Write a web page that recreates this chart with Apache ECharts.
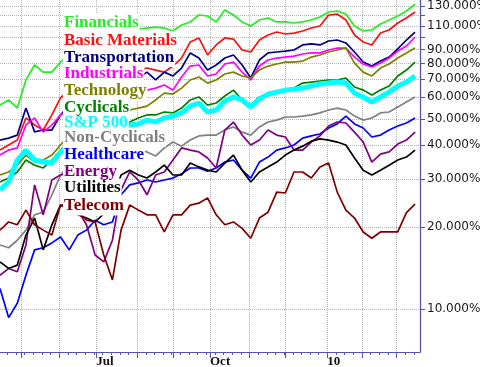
<!DOCTYPE html>
<html><head><meta charset="utf-8">
<script src="https://cdn.jsdelivr.net/npm/echarts@6/dist/echarts.min.js"></script>
<style>html,body{margin:0;padding:0;background:#fff}#c{width:480px;height:367px}</style>
</head><body><div id="c"></div>
<script>
// weekly sample dates
const dates = ['2009-04-14','2009-04-21','2009-04-28','2009-05-05','2009-05-12','2009-05-19','2009-05-26',
'2009-06-02','2009-06-09','2009-06-16','2009-06-23','2009-06-30','2009-07-07','2009-07-14','2009-07-21','2009-07-28',
'2009-08-04','2009-08-11','2009-08-18','2009-08-25','2009-09-01','2009-09-08','2009-09-15','2009-09-22','2009-09-29',
'2009-10-06','2009-10-13','2009-10-20','2009-10-27','2009-11-03','2009-11-10','2009-11-17','2009-11-24',
'2009-12-01','2009-12-08','2009-12-15','2009-12-22','2009-12-29','2010-01-05','2010-01-12','2010-01-19','2010-01-26',
'2010-02-02','2010-02-09','2010-02-16','2010-02-23','2010-03-02','2010-03-09','2010-03-16'];

const financials = [56.2,58.7,54.8,69.5,78.9,74.3,74.3,80.9,85.9,89.6,93.5,95.9,97.5,100.0,101.7,104.3,107.0,107.9,108.8,107.9,105.2,110.7,113.6,120.5,119.5,113.6,125.7,120.5,113.6,109.8,115.5,117.5,113.6,113.6,112.6,113.6,115.5,118.5,123.6,124.6,121.5,109.8,105.2,106.1,111.6,115.5,119.5,124.6,132.2];
const basicMaterials = [38.4,40.1,41.8,50.4,47.5,45.5,51.7,59.7,63.8,66.6,69.5,70.7,71.9,72.5,74.3,74.3,75.6,76.9,75.6,74.3,78.2,83.7,95.9,99.2,85.9,93.5,99.2,98.3,89.6,88.1,97.5,101.7,104.3,102.6,103.4,105.2,107.9,109.8,120.5,121.5,115.5,101.7,95.9,93.5,103.4,106.1,112.6,117.5,123.6];
const transportation = [41.8,42.5,43.6,54.8,44.8,45.5,45.5,51.7,56.2,58.7,61.2,62.7,63.8,64.9,66.6,68.3,70.7,74.3,69.5,74.3,71.9,76.9,87.4,83.7,75.6,78.9,83.7,85.9,78.9,70.7,82.3,87.4,88.1,88.8,89.6,93.5,94.3,93.5,96.7,97.5,95.1,88.1,80.9,78.2,81.6,84.4,90.4,97.5,104.3];
const industrials = [36.8,38.4,39.1,47.5,50.4,44.7,47.5,51.7,53.9,55.7,57.2,57.7,58.7,59.7,60.7,58.7,61.2,63.8,64.9,66.6,63.8,71.3,78.2,78.9,71.9,73.1,79.6,80.9,74.3,69.5,78.2,82.3,83.7,84.4,85.1,86.6,87.4,87.4,89.6,91.1,91.1,84.4,79.6,77.6,80.2,83.7,88.8,92.7,100.0];
const technology = [31.1,31.9,33.8,36.8,34.7,35.3,36.8,40.1,43.6,46.3,48.7,49.5,50.4,51.7,52.6,53.9,54.8,55.7,58.7,62.2,61.7,64.9,69.5,71.3,67.7,69.5,73.1,74.3,71.9,70.7,75.6,78.2,79.6,80.9,80.9,81.6,84.4,85.9,88.1,89.6,91.1,80.2,74.3,71.9,76.9,79.6,83.7,87.4,91.1];
const cyclicals = [29.3,30.3,31.9,35.3,33.8,33.0,35.3,38.4,41.1,42.5,43.6,44.7,45.5,46.3,47.5,48.7,50.4,51.7,51.7,53.0,52.6,54.8,58.7,60.2,56.2,57.2,60.7,63.8,58.7,56.2,60.2,61.7,62.7,63.8,64.9,67.7,68.3,68.9,69.5,69.5,70.7,65.5,63.8,61.2,63.8,66.0,71.9,75.6,80.9];
const sp500 = [27.4,29.3,35.3,38.4,35.3,34.7,34.4,37.8,40.1,41.8,42.9,43.6,44.3,45.5,46.3,47.5,47.9,49.5,48.7,50.4,51.2,52.6,55.7,57.2,53.0,53.9,58.2,60.2,58.7,55.3,59.2,61.7,62.7,63.8,64.3,64.9,66.0,67.2,67.7,68.3,67.7,62.2,60.2,57.7,60.2,62.7,66.0,68.3,71.9];
const nonCyclicals = [17.2,16.8,17.9,19.5,22.2,22.7,26.3,31.1,33.8,35.3,36.2,36.8,36.8,37.5,37.8,37.8,38.4,37.8,36.5,39.1,41.1,39.7,41.8,43.3,43.6,43.6,45.5,46.7,44.7,43.6,46.7,48.7,49.5,50.8,50.8,51.2,51.7,52.6,53.9,54.8,53.9,51.2,49.5,50.4,52.6,53.0,55.3,57.7,60.2];
const healthcare = [11.9,9.3,10.5,13.3,16.5,16.8,17.5,18.4,16.5,18.7,19.5,21.2,20.4,20.9,26.3,28.6,29.1,29.8,29.3,29.8,30.3,31.4,33.0,33.0,32.1,33.0,34.7,35.3,32.4,30.3,34.7,36.2,38.4,39.1,40.1,42.5,43.3,44.0,46.3,47.9,51.2,47.9,46.3,42.9,43.6,45.5,47.1,48.3,50.4];
const energy = [13.3,14.1,13.7,17.2,28.6,22.2,29.8,31.1,31.6,23.1,20.4,15.8,14.9,17.9,27.4,31.9,29.8,26.3,31.1,31.9,35.3,39.1,38.4,37.8,35.9,33.0,45.5,48.7,43.6,40.1,41.8,45.5,43.6,42.9,38.4,38.4,41.1,43.3,47.1,48.7,48.3,44.7,41.1,34.7,37.1,37.8,40.4,41.8,44.7];
const utilities = [14.9,14.1,14.5,18.7,21.6,16.5,20.4,24.1,23.1,22.2,21.6,20.9,22.4,25.2,31.1,32.4,31.1,30.3,31.9,33.8,31.1,31.1,34.4,33.3,32.4,31.9,34.4,36.8,32.4,29.3,31.9,33.3,34.7,36.8,38.4,39.7,41.4,42.2,41.8,41.1,40.1,35.9,32.4,31.1,32.4,33.8,35.3,36.2,38.4];
const telecom = [19.5,20.9,20.4,23.1,20.4,19.5,18.7,24.1,24.1,23.1,21.2,20.9,15.8,12.8,19.5,24.1,23.1,22.2,22.2,19.2,22.2,22.2,24.1,24.5,25.6,22.2,20.4,20.9,19.8,18.2,21.6,22.7,26.9,26.7,31.9,31.9,30.3,33.3,34.4,26.9,23.1,21.6,19.2,18.2,19.2,19.2,19.2,22.6,24.3];

const names = ['Financials','Basic Materials','Transportation','Industrials','Technology','Cyclicals','S&P 500','Non-Cyclicals','Healthcare','Energy','Utilities','Telecom'];
const values = [financials,basicMaterials,transportation,industrials,technology,cyclicals,sp500,nonCyclicals,healthcare,energy,utilities,telecom];
const yTicks = [10,20,30,40,50,60,70,80,90,100,110,120,130];
const yLabels = [10,20,30,40,50,60,70,80,90,110,130];

const colors = ['#22ee22','#ff1010','#000080','#ff00ff','#808000','#008000','#00ffff','#808080','#0000ff','#800080','#000000','#800000'];
const labelY = [22.5,41,57.5,74,91,107.5,122.5,137.5,155,171.7,188,206];

function toTs(s){const p=s.split('-').map(Number);return Date.UTC(p[0],p[1]-1,p[2]);}
const DAY=86400000;
const startTs=Date.UTC(2009,3,14), endTs=Date.UTC(2010,2,20);
const days=[]; for(let t=startTs;t<=endTs;t+=DAY) days.push(t);
const dayCats = days.map(t=>new Date(t).toISOString().slice(0,10));
function isTradingDay(d){const w=d.getUTCDay(); if(w===0||w===6) return false; if(d.getUTCMonth()===0&&d.getUTCDate()===1) return false; return true;}
const monthStart = new Set();
const seenMonth = {};
days.forEach((t,i)=>{const d=new Date(t); const key=d.getUTCFullYear()+'-'+d.getUTCMonth(); if(!seenMonth[key] && isTradingDay(d)){seenMonth[key]=true; if(d.getUTCDate()<=5) monthStart.add(i);}});
const isMS = i=>monthStart.has(i);
const isWeekTick = i=>new Date(days[i]).getUTCDay()===1;
const isQuarter = i=>{ if(!isMS(i)) return false; const m=new Date(days[i]).getUTCMonth(); return m===6||m===9||m===0; };
const monNames=['Jan','Feb','Mar','Apr','May','Jun','Jul','Aug','Sep','Oct','Nov','Dec'];

const axisColor='#5252b8';
const chart = echarts.init(document.getElementById('c'));
const graphics=[];
names.forEach((n,i)=>{
  graphics.push({type:'text',x:63,y:labelY[i],z:50,silent:true,style:{text:n,fill:'rgba(0,0,0,0)',font:'bold 17px "Liberation Serif"',verticalAlign:'middle',backgroundColor:'#fff',padding:[1,1]}});
});
names.forEach((n,i)=>{
  graphics.push({type:'text',x:63,y:labelY[i],z:51,silent:true,style:{text:n,fill:colors[i],font:'bold 17px "Liberation Serif"',verticalAlign:'middle',padding:[1,1]}});
});

chart.setOption({
  animation:false,
  backgroundColor:'#fff',
  grid:{left:0,right:60,top:0,bottom:15,containLabel:false,outerBoundsMode:'none'},
  xAxis:[
    {type:'time',min:startTs,max:endTs,show:false},
    {type:'category',data:dayCats,boundaryGap:false,position:'bottom',
     axisLine:{show:true,lineStyle:{color:axisColor,width:1}},
     axisTick:{show:true,interval:(i)=>isWeekTick(i),length:3,lineStyle:{color:axisColor}},
     axisLabel:{show:true,interval:(i)=>isQuarter(i),align:'left',margin:3,
       formatter:(v)=>{const d=new Date(v+'T00:00:00Z');const m=d.getUTCMonth(); return m===0?String(d.getUTCFullYear()).slice(2):monNames[m];},
       fontFamily:'Liberation Serif',fontWeight:'bold',fontSize:13,color:'#111'},
     splitLine:{show:true,interval:(i)=>isMS(i),lineStyle:{type:'dotted',color:'#b4b4b4',width:1}}},
    {type:'category',data:dayCats,boundaryGap:false,position:'bottom',
     axisLine:{show:false},axisLabel:{show:false},splitLine:{show:false},
     axisTick:{show:true,interval:(i)=>isMS(i),length:6,lineStyle:{color:axisColor}}}
  ],
  yAxis:{type:'log',logBase:10,min:6.95,max:136.8,position:'right',
    axisLine:{show:true,lineStyle:{color:axisColor,width:1.3}},
    axisTick:{show:true,customValues:yTicks,length:5,lineStyle:{color:axisColor}},
    axisLabel:{show:true,customValues:yLabels,margin:7,formatter:(v)=>Number(v).toFixed(3)+'%',
      fontFamily:'DejaVu Sans',fontSize:12,color:'#1a1a1a'},
    splitLine:{show:true,lineStyle:{type:'dotted',color:'#b4b4b4',width:1}}},
  series: names.map((n,i)=>({
    name:n,type:'line',xAxisIndex:0,yAxisIndex:0,showSymbol:false,symbol:'none',
    data: dates.map((d,k)=>[toTs(d),values[i][k]]),
    lineStyle:{color:colors[i],width: n==='S&P 500'?5:1.7},
    itemStyle:{color:colors[i]}
  })),
  graphic:graphics
});
</script>
</body></html>
